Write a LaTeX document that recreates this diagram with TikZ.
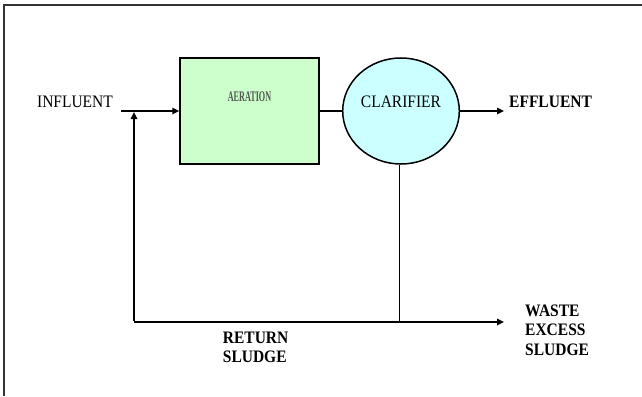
\documentclass[tikz,border=0pt]{standalone}
\usepackage{fontspec}
\setmainfont{Liberation Serif}
\usetikzlibrary{arrows.meta,shapes.geometric}
\definecolor{aergreen}{HTML}{CCFFCC}
\definecolor{clarcyan}{HTML}{CCFFFF}
\definecolor{aertext}{RGB}{78,88,78}
\begin{document}
\begin{tikzpicture}[x=1pt,y=-1pt,
  txt/.style={font=\fontsize{15.5}{17.3}\selectfont, inner sep=0pt, yscale=1.13, transform shape},
  btxt/.style={txt, font=\fontsize{15.5}{17.3}\selectfont\bfseries},
  flow/.style={line width=1.6pt},
  arr/.style={flow, -{Triangle[length=7pt,width=6.5pt]}},
  thin/.style={line width=1.3pt}]
\useasboundingbox (0,0) rectangle (642,396);
% partial frame
\draw[line width=2pt, black!80] (4,396) -- (4,5) -- (642,5);
% aeration tank
\node[draw, line width=1.5pt, fill=aergreen, minimum width=139pt, minimum height=106pt, inner sep=0pt] (aer) at (249.5,111) {};
\node[inner sep=0pt, text=aertext, font=\fontsize{12}{12}\selectfont\bfseries] (aerlbl) at (249.5,97) {\scalebox{0.68}[1.22]{AERATION}};
% clarifier
\node[draw, line width=1.5pt, fill=clarcyan, ellipse, minimum width=116.6pt, minimum height=106pt, inner sep=0pt] (clar) at (401,111) {};
\node[txt] (clarlbl) at (401,102) {CLARIFIER};
% labels
\node[txt] (infl) at (75,102) {INFLUENT};
\node[btxt, anchor=west] (effl) at (509,102) {EFFLUENT};
\node[btxt, anchor=north west, align=left] (ret) at (222.7,331.5) {RETURN\\SLUDGE};
\node[btxt, anchor=north west, align=left] (waste) at (525,304.5) {WASTE\\EXCESS\\SLUDGE};
% coordinates
\coordinate (inflstart) at (121,111);
\coordinate (retjoin) at (134,112);
\coordinate (retcorner) at (134,322);
\coordinate (drop) at (399.5,322);
\coordinate (wasteend) at (504,322);
\coordinate (efflend) at (504,111);
% connectors
\draw[arr] (inflstart) -- (aer.west);
\draw[flow] (aer.east) -- (clar.west);
\draw[arr] (clar.east) -- (efflend);
\draw[thin] (clar.south -| drop) -- (drop);
\draw[arr] (retcorner) -- (wasteend);
\draw[arr] ([yshift=0.8pt]retcorner) -- (retjoin);
\end{tikzpicture}
\end{document}
